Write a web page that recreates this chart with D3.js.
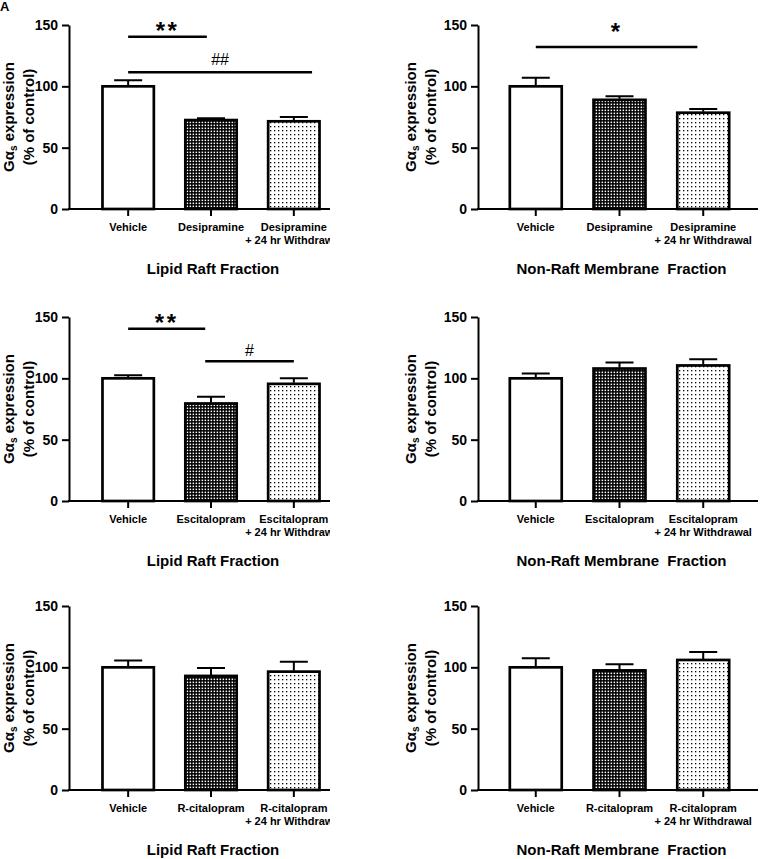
<!DOCTYPE html>
<html>
<head>
<meta charset="utf-8">
<script src="https://cdn.jsdelivr.net/npm/d3@7"></script>
<style>
  html, body { margin: 0; padding: 0; background: #fff; }
  svg { display: block; font-family: "Liberation Sans", Arial, sans-serif; }
  .axis path, .axis line { stroke: #000; stroke-width: 2; }
  .axis text { font-size: 14px; font-weight: bold; fill: #000; }
</style>
</head>
<body>
<div id="chart"></div>
<script>
// Gas expression per fraction, three drug treatments (rows) x two fractions (columns).
const drugs = ["Desipramine", "Escitalopram", "R-citalopram"];
const fractions = ["Lipid Raft Fraction", "Non-Raft Membrane\u00a0 Fraction"];
const groupKeys = ["vehicle", "drug", "withdrawal"];
const yTicks = [0, 50, 100, 150];

const raftMeans = [[100, 72.5, 71.5], [100, 79.5, 95.5], [100, 93, 96.5]];
const raftSem = [[5, 1.5, 3.5], [2.5, 5.5, 4.5], [5.5, 6.5, 8]];
const nonRaftMeans = [[100, 89, 78.5], [100, 108, 110.5], [100, 97.5, 106]];
const nonRaftSem = [[7, 3, 3], [4, 5, 5], [7.5, 5, 6.5]];

// significance bars: row, column, span in category units, bar height, label height
const sigRows = [0, 0, 0, 1, 1];
const sigCols = [0, 0, 1, 0, 0];
const sigSpans = [[0, 0.95], [0, 2.22], [0, 1.93], [0, 0.93], [0.93, 2]];
const sigLevels = [140.5, 111.5, 132, 140.5, 114];
const sigLabels = ["**", "##", "*", "**", "#"];
const sigLabelLevels = [139, 117.5, 137.5, 139, 118.5];

const width = 760;
const height = 859;
const colAxisX = [69, 478];
const colRange = [[2, 282], [0, 283]];
const colLabelX = [[-55, -35], [-62, -42]];
const rowTop = [25, 317, 606];
const plotH = 184;
const axisLen = 280;
const leftCut = 330;

const svg = d3.select("#chart").append("svg")
  .attr("width", width).attr("height", height);

const defs = svg.append("defs");

// dense checker fill for the drug bars
const pDrug = defs.append("pattern").attr("id", "pat-drug")
  .attr("patternUnits", "userSpaceOnUse").attr("width", 3).attr("height", 3);
pDrug.append("rect").attr("width", 3).attr("height", 3).attr("fill", "#000");
pDrug.append("rect").attr("x", 0.6).attr("y", 0.6).attr("width", 1.5).attr("height", 1.5).attr("fill", "#fff");

// sparse dots for the withdrawal bars
const pWd = defs.append("pattern").attr("id", "pat-wd")
  .attr("patternUnits", "userSpaceOnUse").attr("width", 4).attr("height", 4);
pWd.append("rect").attr("width", 4).attr("height", 4).attr("fill", "#fff");
pWd.append("rect").attr("x", 1).attr("y", 1).attr("width", 1.3).attr("height", 1.3).attr("fill", "#000");

// left column is cropped at x = 330 in the original figure
defs.append("clipPath").attr("id", "clip-left")
  .append("rect").attr("x", -colAxisX[0] - 10).attr("y", -40)
  .attr("width", leftCut + 10).attr("height", 300);

const fills = { vehicle: "#fff", drug: "url(#pat-drug)", withdrawal: "url(#pat-wd)" };

// panel letter in the corner
svg.append("text").attr("x", 0).attr("y", 11)
  .attr("font-size", 13).attr("font-weight", "bold").text("A");

function drawPanel(row, col) {
  const means = col === 0 ? raftMeans[row] : nonRaftMeans[row];
  const sems = col === 0 ? raftSem[row] : nonRaftSem[row];
  const data = groupKeys.map(function (key, i) {
    return { key: key, mean: means[i], sem: sems[i] };
  });
  const drug = drugs[row];
  const catLabels = [["Vehicle"], [drug], [drug, "+ 24 hr Withdrawal"]];

  const g = svg.append("g")
    .attr("transform", "translate(" + colAxisX[col] + "," + rowTop[row] + ")");
  const inner = g.append("g");
  if (col === 0) inner.attr("clip-path", "url(#clip-left)");

  const x = d3.scaleBand().domain(groupKeys).range(colRange[col]).padding(0.38);
  const y = d3.scaleLinear().domain([0, 150]).range([plotH, 0]);
  const cx = function (k) { return x(k) + x.bandwidth() / 2; };
  const posX = function (p) {
    const i = Math.floor(Math.min(p, 1.999));
    return cx(groupKeys[i]) + (p - i) * x.step();
  };

  // bars
  inner.selectAll(".bar").data(data).enter().append("rect")
    .attr("class", "bar")
    .attr("x", function (d) { return x(d.key); })
    .attr("y", function (d) { return y(d.mean); })
    .attr("width", x.bandwidth())
    .attr("height", function (d) { return y(0) - y(d.mean); })
    .attr("fill", function (d) { return fills[d.key]; })
    .attr("stroke", "#000").attr("stroke-width", 2.7);

  // upper error bars
  inner.selectAll(".err").data(data).enter().append("path")
    .attr("class", "err")
    .attr("d", function (d) {
      const c = cx(d.key);
      const top = y(d.mean + d.sem);
      return "M" + c + "," + (y(d.mean) - 1) + "V" + top + "M" + (c - 14) + "," + top + "H" + (c + 14);
    })
    .attr("stroke", "#000").attr("stroke-width", 2).attr("fill", "none");

  // y axis
  g.append("g").attr("class", "axis")
    .call(d3.axisLeft(y).tickValues(yTicks).tickSize(7).tickSizeOuter(0).tickPadding(4));

  // x axis
  const xAxis = inner.append("g").attr("class", "axis")
    .attr("transform", "translate(0," + plotH + ")")
    .call(d3.axisBottom(x).tickSize(7).tickSizeOuter(0).tickFormat(""));
  xAxis.select(".domain").remove();
  xAxis.append("line").attr("x1", -1).attr("x2", axisLen).attr("y1", 0).attr("y2", 0);

  const labels = inner.selectAll(".xlab").data(groupKeys).enter().append("text")
    .attr("class", "xlab")
    .attr("text-anchor", "middle")
    .attr("font-size", 11).attr("font-weight", "bold");
  labels.each(function (k, i) {
    const t = d3.select(this);
    catLabels[i].forEach(function (line, j) {
      t.append("tspan").attr("x", cx(k)).attr("y", plotH + 21.5 + j * 13.5).text(line);
    });
  });

  // y axis title
  const yl = g.append("text")
    .attr("transform", "translate(" + colLabelX[col][0] + "," + plotH / 2 + ") rotate(-90)")
    .attr("text-anchor", "middle").attr("font-size", 15).attr("font-weight", "bold");
  yl.append("tspan").text("G\u03b1");
  yl.append("tspan").attr("font-size", 10).attr("dy", 3).text("s");
  yl.append("tspan").attr("dy", -3).text(" expression");
  g.append("text")
    .attr("transform", "translate(" + colLabelX[col][1] + "," + plotH / 2 + ") rotate(-90)")
    .attr("text-anchor", "middle").attr("font-size", 15).attr("font-weight", "bold")
    .text("(% of control)");

  // fraction title
  g.append("text")
    .attr("x", (colRange[col][0] + colRange[col][1]) / 2 + 2)
    .attr("y", plotH + 65)
    .attr("text-anchor", "middle").attr("font-size", 15).attr("font-weight", "bold")
    .text(fractions[col]);

  // significance markers
  sigRows.forEach(function (r, i) {
    if (r !== row || sigCols[i] !== col) return;
    const x1 = posX(sigSpans[i][0]);
    const x2 = posX(sigSpans[i][1]);
    inner.append("line")
      .attr("x1", x1).attr("x2", x2)
      .attr("y1", y(sigLevels[i])).attr("y2", y(sigLevels[i]))
      .attr("stroke", "#000").attr("stroke-width", 2.5);
    const isStar = sigLabels[i].indexOf("*") >= 0;
    inner.append("text")
      .attr("x", (x1 + x2) / 2)
      .attr("y", y(sigLabelLevels[i]))
      .attr("text-anchor", "middle")
      .attr("font-size", isStar ? 24 : 16)
      .attr("font-weight", isStar ? "bold" : "normal")
      .attr("letter-spacing", isStar ? 2.5 : 0)
      .text(sigLabels[i]);
  });
}

for (let r = 0; r < 3; r++) {
  for (let c = 0; c < 2; c++) drawPanel(r, c);
}
</script>
</body>
</html>
